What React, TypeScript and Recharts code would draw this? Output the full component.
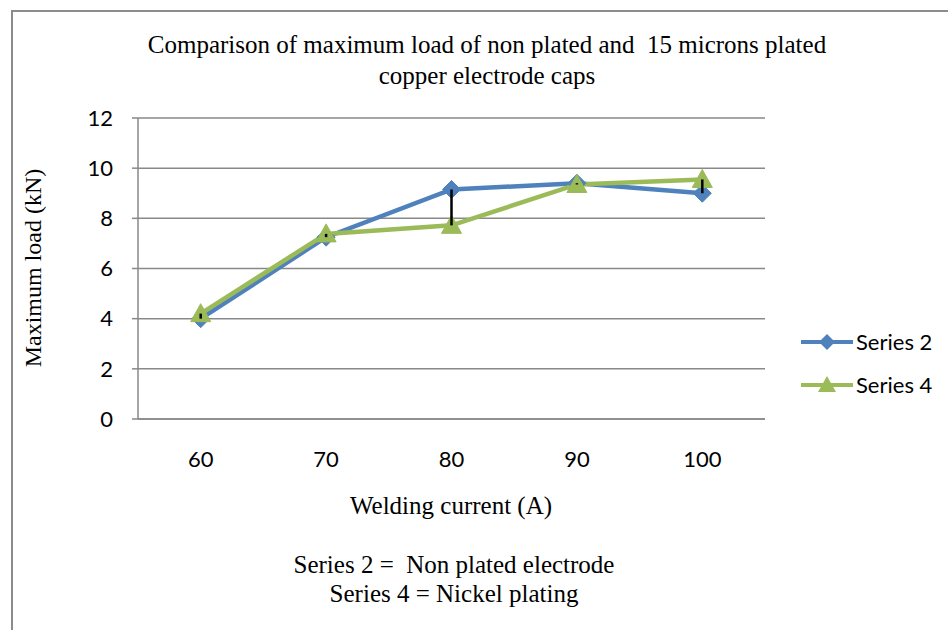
import React from 'react';
import { LineChart, Line, XAxis, YAxis, CartesianGrid, Legend, ErrorBar } from 'recharts';

const categories = ['60', '70', '80', '90', '100'];
const series2 = [4.0, 7.25, 9.15, 9.4, 9.0];
const series4 = [4.2, 7.38, 7.72, 9.35, 9.55];
const yTicks = [0, 2, 4, 6, 8, 10, 12];

const BLUE = '#4F81BD';
const GREEN = '#9BBB59';
const GRID = '#898989';
const SERIF = '"Liberation Serif", "Times New Roman", serif';
const SANS = 'Lato, "Open Sans", sans-serif';

const data = categories.map((c, i) => ({
  current: c,
  s2: series2[i],
  s4: series4[i],
  low: Math.min(series2[i], series4[i]),
  spread: [0, Math.abs(series2[i] - series4[i])],
}));

const Diamond = (props: any) => {
  const { cx, cy } = props;
  if (cx == null || cy == null) return null;
  const r = 9;
  return (
    <polygon
      key={`d-${cx}`}
      points={`${cx},${cy - r} ${cx + r},${cy} ${cx},${cy + r} ${cx - r},${cy}`}
      fill={BLUE}
      stroke={BLUE}
    />
  );
};

const Triangle = (props: any) => {
  const { cx, cy } = props;
  if (cx == null || cy == null) return null;
  return (
    <polygon
      key={`t-${cx}`}
      points={`${cx},${cy - 10} ${cx + 10},${cy + 8} ${cx - 10},${cy + 8}`}
      fill={GREEN}
      stroke={GREEN}
    />
  );
};

const legendItems = [
  { name: 'Series 2', color: BLUE, shape: 'diamond' },
  { name: 'Series 4', color: GREEN, shape: 'triangle' },
];

const renderLegend = () => (
  <div style={{ fontFamily: SANS, fontSize: 22, color: '#000' }}>
    {legendItems.map((it) => (
      <div key={it.name} style={{ display: 'flex', alignItems: 'center', height: 43 }}>
        <svg width={54} height={24} style={{ marginRight: 2 }}>
          <line x1={1} y1={12} x2={53} y2={12} stroke={it.color} strokeWidth={4} />
          {it.shape === 'diamond' ? (
            <polygon points="27,4 35,12 27,20 19,12" fill={it.color} />
          ) : (
            <polygon points="27,3 36,19 18,19" fill={it.color} />
          )}
        </svg>
        <span>{it.name}</span>
      </div>
    ))}
  </div>
);

const textStyle: React.CSSProperties = {
  position: 'absolute',
  fontFamily: SERIF,
  color: '#000',
  whiteSpace: 'pre',
  textAlign: 'center',
  transform: 'translate(-50%, -50%)',
};

export default function App() {
  return (
    <div style={{ position: 'absolute', left: 0, top: 0, width: 948, height: 630, background: '#fff', overflow: 'hidden' }}>
      {/* chart frame (left and top edges visible) */}
      <div style={{ position: 'absolute', left: 11, top: 10, width: 960, height: 640, borderLeft: '2px solid #8c8c8c', borderTop: '2px solid #8c8c8c' }} />

      <div style={{ ...textStyle, left: 487, top: 45, fontSize: 25 }}>
        {'Comparison of maximum load of non plated and  15 microns plated'}
      </div>
      <div style={{ ...textStyle, left: 487, top: 76, fontSize: 25 }}>copper electrode caps</div>

      <div style={{ position: 'absolute', left: 0, top: 0 }}>
        <LineChart
          width={948}
          height={630}
          data={data}
          margin={{ top: 118, right: 183, left: 78, bottom: 171 }}
        >
          <CartesianGrid vertical={false} stroke={GRID} strokeWidth={1.5} />
          <XAxis
            dataKey="current"
            scale="band"
            height={40}
            axisLine={{ stroke: GRID, strokeWidth: 1.5 }}
            tickLine={false}
            tickSize={0}
            tickMargin={32}
            tick={{ fill: '#000', fontSize: 22, fontFamily: SANS }}
          />
          <YAxis
            width={60}
            domain={[0, 12]}
            ticks={yTicks}
            axisLine={{ stroke: GRID, strokeWidth: 1.5 }}
            tickLine={{ stroke: GRID, strokeWidth: 1.5 }}
            tickSize={6}
            tickMargin={19}
            tick={{ fill: '#000', fontSize: 22, fontFamily: SANS }}
          />
          <Legend
            layout="vertical"
            align="center"
            verticalAlign="middle"
            content={renderLegend}
            wrapperStyle={{ left: 800, top: 320, width: 148 }}
          />
          <Line
            dataKey="s2"
            name="Series 2"
            stroke={BLUE}
            strokeWidth={4.5}
            dot={Diamond}
            activeDot={false}
            isAnimationActive={false}
          />
          <Line
            dataKey="s4"
            name="Series 4"
            stroke={GREEN}
            strokeWidth={4.5}
            dot={Triangle}
            activeDot={false}
            isAnimationActive={false}
          />
        </LineChart>
      </div>

      {/* overlay chart with the same plot area, so the high-low bars sit above the markers */}
      <div style={{ position: 'absolute', left: 0, top: 0, pointerEvents: 'none' }}>
        <LineChart
          width={948}
          height={630}
          data={data}
          margin={{ top: 118, right: 183, left: 138, bottom: 211 }}
        >
          <XAxis dataKey="current" scale="band" hide />
          <YAxis domain={[0, 12]} ticks={yTicks} hide />
          <Line
            dataKey="low"
            stroke="none"
            dot={false}
            activeDot={false}
            legendType="none"
            isAnimationActive={false}
          >
            <ErrorBar dataKey="spread" direction="y" width={0} stroke="#000" strokeWidth={2.5} />
          </Line>
        </LineChart>
      </div>

      <div
        style={{
          position: 'absolute',
          left: 33,
          top: 268,
          fontFamily: SERIF,
          fontSize: 24,
          whiteSpace: 'pre',
          transform: 'translate(-50%, -50%) rotate(-90deg)',
        }}
      >
        Maximum load (kN)
      </div>
      <div style={{ ...textStyle, left: 451, top: 506, fontSize: 25 }}>Welding current (A)</div>
      <div style={{ ...textStyle, left: 454, top: 565, fontSize: 25 }}>{'Series 2 =  Non plated electrode'}</div>
      <div style={{ ...textStyle, left: 454, top: 594, fontSize: 25 }}>Series 4 = Nickel plating</div>
    </div>
  );
}
